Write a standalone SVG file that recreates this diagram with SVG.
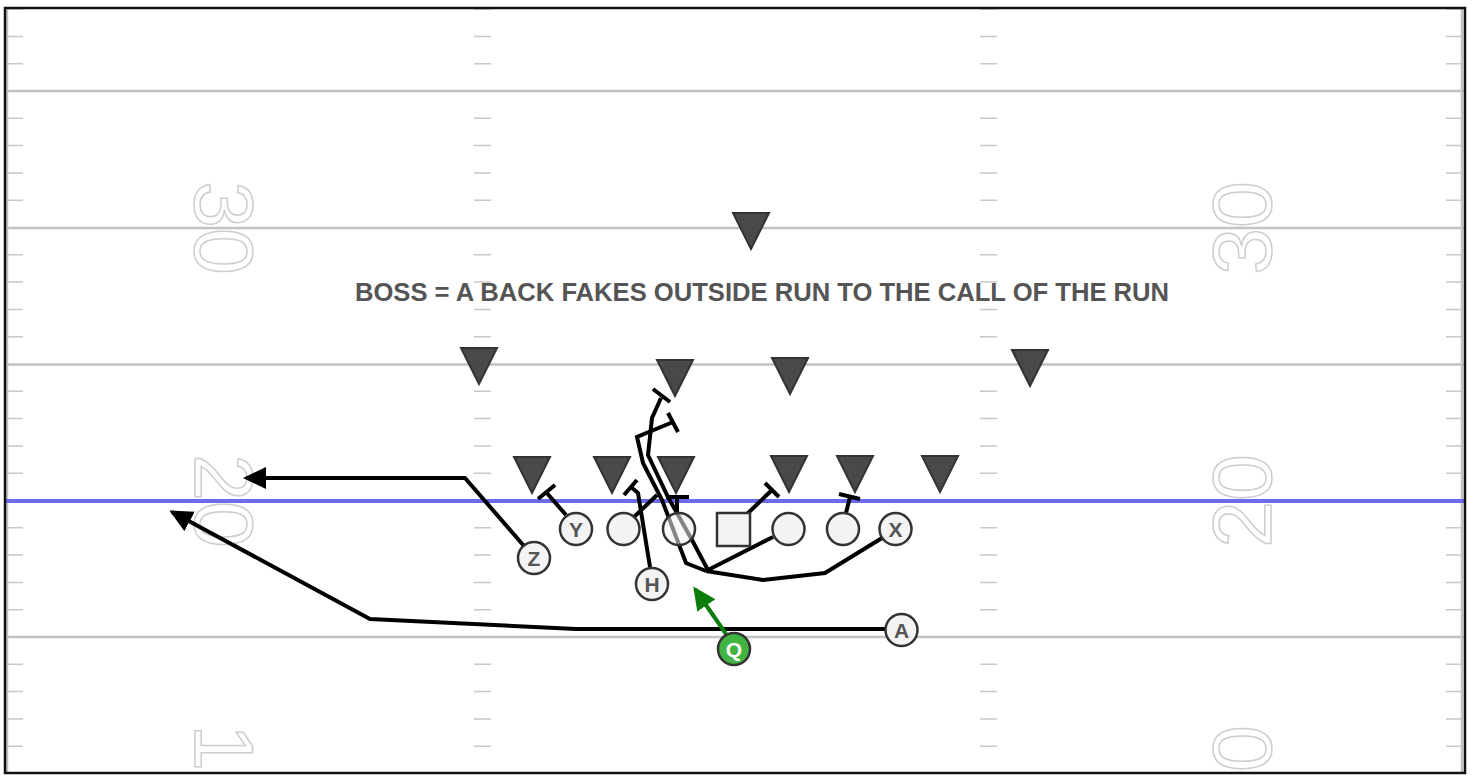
<svg xmlns="http://www.w3.org/2000/svg" width="1476" height="775" viewBox="0 0 1476 775">
  <style>
    .yard { stroke: #c2c2c2; stroke-width: 2.5; fill: none; }
    .hash { stroke: #c8c8c8; stroke-width: 1.5; fill: none; }
    .num { font-family: "Liberation Sans", Arial, sans-serif; font-size: 84px; fill: none; stroke: #cdcdcd; stroke-width: 1.5; }
    .def { fill: #494949; stroke: #333; stroke-width: 2; stroke-linejoin: miter; }
    .plr { fill: #f3f3f3; stroke: #333; stroke-width: 2.5; }
    .lbl { font-family: "Liberation Sans", Arial, sans-serif; font-size: 21px; font-weight: bold; fill: #555; text-anchor: middle; }
    .route { fill: none; stroke: #000; stroke-width: 4; stroke-linejoin: miter; stroke-linecap: butt; }
    .note { font-family: "Liberation Sans", Arial, sans-serif; font-size: 25.6px; font-weight: bold; fill: #555; text-anchor: middle; }
  </style>
  <defs>
    <marker id="arrow" markerUnits="userSpaceOnUse" markerWidth="26" markerHeight="24" refX="20" refY="11" orient="auto">
      <path d="M0,0 L23,11 L0,22 Z" fill="#000"/>
    </marker>
    <marker id="arrowGreen" markerUnits="userSpaceOnUse" markerWidth="26" markerHeight="24" refX="20" refY="11" orient="auto">
      <path d="M0,0 L23,11 L0,22 Z" fill="#0b7d0b"/>
    </marker>
  </defs>

  <rect width="1476" height="775" fill="#fff"/>

  <!-- field markings -->
  <g id="field">
    <path class="hash" d="M7,9.1h16M7,36.4h16M7,63.7h16M7,118.3h16M7,145.6h16M7,172.9h16M7,200.2h16M7,254.8h16M7,282.1h16M7,309.4h16M7,336.7h16M7,391.3h16M7,418.6h16M7,445.9h16M7,473.2h16M7,527.8h16M7,555.1h16M7,582.4h16M7,609.7h16M7,664.3h16M7,691.6h16M7,718.9h16M7,746.2h16"/>
    <path class="hash" d="M474,9.1h17M474,36.4h17M474,63.7h17M474,118.3h17M474,145.6h17M474,172.9h17M474,200.2h17M474,254.8h17M474,282.1h17M474,309.4h17M474,336.7h17M474,391.3h17M474,418.6h17M474,445.9h17M474,473.2h17M474,527.8h17M474,555.1h17M474,582.4h17M474,609.7h17M474,664.3h17M474,691.6h17M474,718.9h17M474,746.2h17"/>
    <path class="hash" d="M980,9.1h17M980,36.4h17M980,63.7h17M980,118.3h17M980,145.6h17M980,172.9h17M980,200.2h17M980,254.8h17M980,282.1h17M980,309.4h17M980,336.7h17M980,391.3h17M980,418.6h17M980,445.9h17M980,473.2h17M980,527.8h17M980,555.1h17M980,582.4h17M980,609.7h17M980,664.3h17M980,691.6h17M980,718.9h17M980,746.2h17"/>
    <path class="hash" d="M1446,9.1h16M1446,36.4h16M1446,63.7h16M1446,118.3h16M1446,145.6h16M1446,172.9h16M1446,200.2h16M1446,254.8h16M1446,282.1h16M1446,309.4h16M1446,336.7h16M1446,391.3h16M1446,418.6h16M1446,445.9h16M1446,473.2h16M1446,527.8h16M1446,555.1h16M1446,582.4h16M1446,609.7h16M1446,664.3h16M1446,691.6h16M1446,718.9h16M1446,746.2h16"/>
    <path class="yard" d="M5,91H1466M5,228H1466M5,364.5H1466M5,637H1466"/>
    <path class="yard" d="M7,8V773M1462,8V773" stroke-width="2"/>
    <!-- yard numbers -->
    <text class="num" transform="translate(225,228) rotate(90)" y="30" text-anchor="middle">30</text>
    <text class="num" transform="translate(1241,228) rotate(-90)" y="30" text-anchor="middle">30</text>
    <text class="num" transform="translate(225,501) rotate(90)" y="30" text-anchor="middle">20</text>
    <text class="num" transform="translate(1241,501) rotate(-90)" y="30" text-anchor="middle">20</text>
    <text class="num" transform="translate(225,771) rotate(90)" y="30" text-anchor="end">1</text>
    <text class="num" transform="translate(1241,772) rotate(-90)" y="30" text-anchor="start">0</text>
    <!-- line of scrimmage -->
    <path d="M5,501H1466" stroke="#6b6bef" stroke-width="4"/>
    <rect x="5" y="8" width="1460" height="765" fill="none" stroke="#111" stroke-width="2.5"/>
  </g>

  <text id="note" class="note" x="762" y="301">BOSS = A BACK FAKES OUTSIDE RUN TO THE CALL OF THE RUN</text>

  <!-- defense -->
  <g id="defense">
    <polygon id="d1" class="def" points="733,213 769,213 751,249"/>
    <polygon id="d2" class="def" points="461,348 497,348 479,384"/>
    <polygon id="d3" class="def" points="657,360 693,360 675,396"/>
    <polygon id="d4" class="def" points="772,358 808,358 790,394"/>
    <polygon id="d5" class="def" points="1012,350 1048,350 1030,386"/>
    <polygon id="d6" class="def" points="514,457 550,457 532,493"/>
    <polygon id="d7" class="def" points="594,457 630,457 612,493"/>
    <polygon id="d8" class="def" points="658,457 694,457 676,493"/>
    <polygon id="d9" class="def" points="771,456 807,456 789,492"/>
    <polygon id="d10" class="def" points="837,456 873,456 855,492"/>
    <polygon id="d11" class="def" points="922,456 958,456 940,492"/>
  </g>

  <!-- routes and blocks -->
  <g id="connectors">
    <path class="route" d="M524,546 L465,478 L246,478" marker-end="url(#arrow)"/>
    <path class="route" d="M885,629 L576,629 L370,619 L172,512" marker-end="url(#arrow)"/>
    <path d="M726,634 L695,589" fill="none" stroke="#0b7d0b" stroke-width="4" marker-end="url(#arrowGreen)"/>
    <!-- Y block -->
    <path class="route" d="M566,515 L546,492 M538,499 L555,485"/>
    <!-- H block -->
    <path class="route" d="M650,567 L638,493 L631,487 M624,495 L637,480"/>
    <!-- center block -->
    <path class="route" d="M677,513 V497 M666,497 H689"/>
    <!-- square block -->
    <path class="route" d="M747,514 L772,490 M765,483 L779,497"/>
    <!-- right tackle block -->
    <path class="route" d="M846,513 L850,497 M839,494 L860,499"/>
    <!-- left tackle -->
    <path class="route" d="M634,517 L657,495"/>
    <!-- pulling routes -->
    <path class="route" d="M773,537 L706,571"/>
    <path class="route" d="M882,538 L825,573 L763,580 L706,571"/>
    <path class="route" d="M706,571 L686,563 L662,500 L643,463 L637,437 L673,422 M668,413 L678,432"/>
    <path class="route" d="M709,572 L692,540 L668,497 L648,455 L652,418 L661,398 M653,389 L670,402"/>
  </g>

  <!-- offense -->
  <g id="Y"><circle class="plr" cx="576" cy="529" r="16"/><text class="lbl" x="576" y="536.5">Y</text></g>
  <g id="LT"><circle class="plr" cx="623.5" cy="529" r="16"/></g>
  <g id="C">
    <circle cx="679" cy="529" r="16" fill="#f3f3f3" fill-opacity="0.55" stroke="#333" stroke-width="2.5"/>
  </g>
  <g id="RG"><rect class="plr" x="717" y="513" width="33" height="33"/></g>
  <g id="RG2"><circle class="plr" cx="788.5" cy="529" r="16"/></g>
  <g id="RT"><circle class="plr" cx="843" cy="529" r="16"/></g>
  <g id="X"><circle class="plr" cx="895.5" cy="529" r="16"/><text class="lbl" x="895.5" y="536.5">X</text></g>
  <g id="Z"><circle class="plr" cx="534" cy="558" r="16"/><text class="lbl" x="534" y="565.5">Z</text></g>
  <g id="H"><circle class="plr" cx="652" cy="584" r="16"/><text class="lbl" x="652" y="591.5">H</text></g>
  <g id="A"><circle class="plr" cx="901.5" cy="630" r="16"/><text class="lbl" x="901.5" y="637.5">A</text></g>
  <g id="Q"><circle cx="734" cy="649" r="16" fill="#41b441" stroke="#333" stroke-width="2.5"/><text class="lbl" x="734" y="656.5" style="fill:#fff">Q</text></g>
</svg>
